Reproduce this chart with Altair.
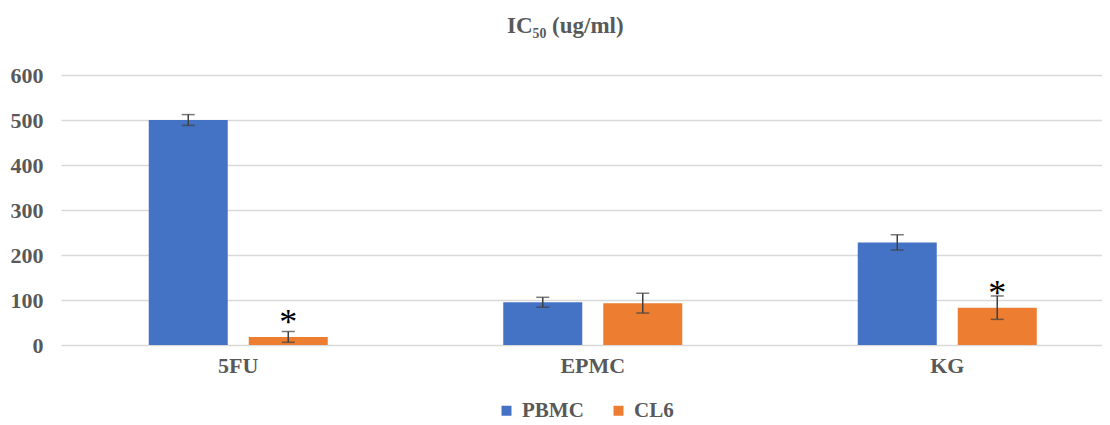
import altair as alt
import pandas as pd

categories = ["5FU", "EPMC", "KG"]
series = ["PBMC", "CL6"]
pbmc = [500, 95, 228]
pbmc_err = [12, 11, 17]
cl6 = [18, 93, 83]
cl6_err = [12, 22, 26]
significant = [True, False, True]
colors = ["#4472C4", "#ED7D31"]

rows = []
for i, c in enumerate(categories):
    for s, vals, errs in (("PBMC", pbmc, pbmc_err), ("CL6", cl6, cl6_err)):
        v, e = vals[i], errs[i]
        rows.append({"cat": c, "series": s, "value": v, "lo": v - e, "hi": v + e,
                     "star": "*" if (s == "CL6" and significant[i]) else ""})
df = pd.DataFrame(rows)

FONT = "Liberation Serif"
GRAY = "#595959"

x = alt.X("cat:N", sort=categories, title=None,
          scale=alt.Scale(paddingInner=0, paddingOuter=0, rangeMax=1063.5),
          axis=alt.Axis(labelAngle=0, domain=False, ticks=False, labelFont=FONT,
                        labelFontSize=22, labelFontWeight="bold", labelColor=GRAY,
                        labelPadding=10))
xo = alt.XOffset("series:N", sort=series,
                 scale=alt.Scale(paddingInner=0.21, paddingOuter=0.8775))
yscale = alt.Scale(domain=[0, 600])

base = alt.Chart(df)

bars = base.mark_bar().encode(
    x=x, xOffset=xo,
    y=alt.Y("value:Q", scale=yscale, title=None,
            axis=alt.Axis(values=[0, 100, 200, 300, 400, 500, 600], domain=False, ticks=False,
                          gridColor="#d9d9d9", gridWidth=1.5, labelFont=FONT,
                          labelFontSize=22, labelFontWeight="bold", labelColor=GRAY,
                          labelPadding=18)),
    color=alt.Color("series:N", sort=series,
                    scale=alt.Scale(domain=series, range=colors),
                    legend=alt.Legend(title=None, orient="none", direction="horizontal",
                                      legendX=435, legendY=325,
                                      symbolType="square", symbolSize=100, symbolStrokeWidth=0,
                                      labelFont=FONT, labelFontSize=21, labelFontWeight="bold",
                                      labelColor=GRAY, columnPadding=24, labelOffset=5)),
)

rule = base.mark_rule(color="#404040", strokeWidth=1.5).encode(
    x=x, xOffset=xo, y=alt.Y("lo:Q", scale=yscale), y2="hi:Q")
cap_lo = base.mark_tick(color="#404040", size=13, thickness=1.5).encode(
    x=x, xOffset=xo, y=alt.Y("lo:Q", scale=yscale))
cap_hi = base.mark_tick(color="#404040", size=13, thickness=1.5).encode(
    x=x, xOffset=xo, y=alt.Y("hi:Q", scale=yscale))
stars = base.mark_text(font=FONT, fontSize=36, color="black", baseline="alphabetic",
                       dy=-3).encode(
    x=x, xOffset=xo, y=alt.Y("value:Q", scale=yscale), text="star:N")

chart = alt.layer(bars, rule, cap_lo, cap_hi, stars).properties(
    width=1041, height=270,
    autosize=alt.AutoSizeParams(type="none"),
    padding={"left": 53, "top": 67, "right": 0, "bottom": 78},
    title=alt.TitleParams("IC₅₀ (ug/ml)", font=FONT, fontSize=23, fontWeight="bold",
                          color=GRAY, anchor="start", dx=497, offset=26),
).configure_view(stroke=None)

chart.save("out.html", embed_options={"renderer": "svg", "actions": False})
